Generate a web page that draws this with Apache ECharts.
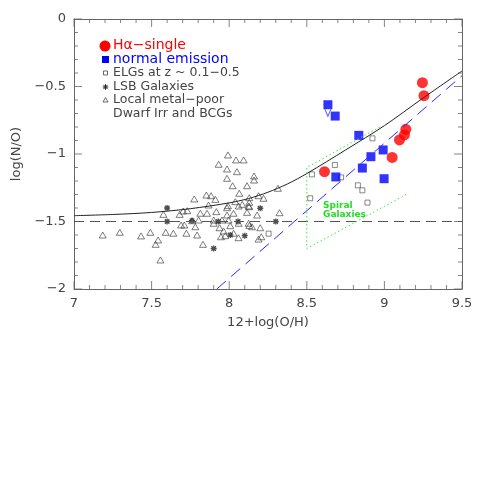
<!DOCTYPE html>
<html>
<head>
<meta charset="utf-8">
<script src="https://cdn.jsdelivr.net/npm/echarts@6/dist/echarts.min.js"></script>
<style>
  html, body { margin: 0; padding: 0; background: #fff; }
  #main { width: 480px; height: 480px; }
</style>
</head>
<body>
<div id="main"></div>
<script>
  // H-alpha single measurements
  var haSingle = [[9.245, -0.472], [9.255, -0.568], [9.138, -0.817], [9.129, -0.859],
    [9.097, -0.896], [9.05, -1.025], [8.614, -1.131]];
  // normal emission
  var normalEmission = [[8.636, -0.635], [8.683, -0.719], [8.835, -0.862], [8.992, -0.970],
    [8.913, -1.02], [8.858, -1.104], [8.687, -1.170], [8.998, -1.183]];
  var upperLimit = [[8.636, -0.695]];
  // ELGs at z ~ 0.1-0.5
  var elgs = [[8.533, -1.151], [8.681, -1.081], [8.923, -0.884], [8.721, -1.173], [8.829, -1.232],
    [8.858, -1.269], [8.891, -1.36], [8.522, -1.328], [8.254, -1.59]];
  // LSB galaxies
  var lsb = [[7.60, -1.40], [7.60, -1.50], [7.76, -1.494], [7.90, -1.70], [8.007, -1.60],
    [8.10, -1.605], [8.057, -1.50], [8.20, -1.402], [8.30, -1.50], [7.93, -1.50]];
  // local metal-poor dwarf irr and BCGs
  var dwarfs = [
    [7.185, -1.60], [7.295, -1.58], [7.432, -1.607], [7.492, -1.58], [7.591, -1.58], [7.640, -1.587],
    [7.576, -1.447], [7.681, -1.447], [7.69, -1.526], [7.542, -1.637], [7.526, -1.669], [7.557, -1.785],
    [7.992, -1.007], [8.044, -1.044], [8.093, -1.044], [7.932, -1.076], [7.986, -1.111], [8.050, -1.131],
    [7.986, -1.18], [8.16, -1.163], [8.16, -1.193], [8.022, -1.235], [8.115, -1.235], [8.314, -1.254],
    [8.065, -1.291], [7.853, -1.304], [7.883, -1.309], [7.775, -1.333], [7.911, -1.336], [8.189, -1.309],
    [8.221, -1.328], [8.129, -1.324], [8.039, -1.353], [8.084, -1.373], [8.129, -1.358], [7.867, -1.378],
    [7.992, -1.383], [8.129, -1.39],
    [7.703, -1.422], [7.814, -1.439], [7.857, -1.439], [7.917, -1.427], [7.986, -1.398], [8.028, -1.439],
    [8.061, -1.385], [8.125, -1.385], [8.115, -1.432], [7.986, -1.452], [7.761, -1.494], [7.803, -1.489],
    [7.90, -1.489], [7.954, -1.489], [7.996, -1.489], [7.711, -1.526], [7.782, -1.539], [7.90, -1.513],
    [7.938, -1.546], [8.007, -1.531], [8.061, -1.513], [8.125, -1.513], [8.147, -1.539], [8.20, -1.546],
    [7.724, -1.587], [7.793, -1.60], [7.964, -1.57], [7.975, -1.605], [8.028, -1.587], [7.947, -1.613],
    [8.189, -1.63], [8.207, -1.613], [7.831, -1.669], [7.73, -1.42], [8.324, -1.435], [8.18, -1.452],
    [8.13, -1.53], [8.06, -1.62]
  ];
  // model curve
  var modelCurve = [[7.0, -1.457], [7.25, -1.448], [7.5, -1.433], [7.75, -1.405], [8.0, -1.362],
    [8.125, -1.33], [8.25, -1.283], [8.375, -1.222], [8.5, -1.145], [8.75, -0.97], [9.0, -0.79],
    [9.25, -0.585], [9.5, -0.385]];
  var blueFit = [[7.92, -2.0], [9.5, -0.42]];
  var solarLine = [[7.0, -1.5], [9.5, -1.5]];
  var spiralBox = [[8.97, -0.80], [8.5, -1.10], [8.5, -1.70], [9.14, -1.30]];

  // tick positions (major every 0.5, minor every 0.1)
  var xMajor = [7, 7.5, 8, 8.5, 9, 9.5];
  var xMinor = [7.1, 7.2, 7.3, 7.4, 7.6, 7.7, 7.8, 7.9, 8.1, 8.2, 8.3, 8.4, 8.6, 8.7, 8.8, 8.9,
    9.1, 9.2, 9.3, 9.4];
  var yMajor = [-2, -1.5, -1, -0.5, 0];
  var yMinor = [-1.9, -1.8, -1.7, -1.6, -1.4, -1.3, -1.2, -1.1, -0.9, -0.8, -0.7, -0.6,
    -0.4, -0.3, -0.2, -0.1];

  var xMin = 7, xMax = 9.5, yMin = -2, yMax = 0;
  var axisColor = '#666';
  var font = 'DejaVu Sans';

  function minus(v) { return String(v).replace('-', '\u2212'); }

  var myChart = echarts.init(document.getElementById('main'));

  function axisBase(extra) {
    var a = {
      type: 'value',
      axisLine: { show: true, onZero: false, lineStyle: { color: axisColor, width: 1 } },
      axisTick: { show: false },
      minorTick: { show: false },
      splitLine: { show: false },
      minorSplitLine: { show: false }
    };
    for (var k in extra) a[k] = extra[k];
    return a;
  }

  // inside tick marks drawn as thin rect symbols sitting on the frame
  function tickMarks(values, side, len) {
    var isX = side === 'bottom' || side === 'top';
    var data = values.map(function (v) {
      if (side === 'bottom') return [v, yMin];
      if (side === 'top') return [v, yMax];
      if (side === 'left') return [xMin, v];
      return [xMax, v];
    });
    var off = { bottom: [0, -len / 2], top: [0, len / 2], left: [len / 2, 0], right: [-len / 2, 0] }[side];
    return {
      type: 'scatter', data: data, silent: true, clip: false, z: 1,
      symbol: 'rect', symbolSize: isX ? [1, len] : [len, 1], symbolOffset: off,
      itemStyle: { color: axisColor }
    };
  }

  function starLines(cx, cy, r) {
    var d = r * 0.75;
    var segs = [[0, -r, 0, r], [-r, 0, r, 0], [-d, -d, d, d], [-d, d, d, -d]];
    return segs.map(function (s) {
      return { type: 'line', shape: { x1: cx + s[0], y1: cy + s[1], x2: cx + s[2], y2: cy + s[3] },
        style: { stroke: '#222', lineWidth: 1 } };
    });
  }

  var legendGraphics = [
    { type: 'circle', shape: { cx: 105, cy: 46, r: 5.5 }, style: { fill: '#ff0000' } },
    { type: 'text', x: 113, y: 38, style: { text: 'H\u03b1\u2212single', fill: '#ff0000', fontSize: 14, fontFamily: font } },
    { type: 'rect', shape: { x: 102, y: 56, width: 7, height: 7 }, style: { fill: '#0000ff' } },
    { type: 'text', x: 113, y: 52, style: { text: 'normal emission', fill: '#0000ff', fontSize: 14, fontFamily: font } },
    { type: 'rect', shape: { x: 103.5, y: 71, width: 4, height: 4 }, style: { fill: 'none', stroke: '#444', lineWidth: 0.8 } },
    { type: 'text', x: 113, y: 66, style: { text: 'ELGs at z ~ 0.1\u22120.5', fill: '#444', fontSize: 12.5, fontFamily: font } },
    { type: 'text', x: 113, y: 80, style: { text: 'LSB Galaxies', fill: '#444', fontSize: 12.5, fontFamily: font } },
    { type: 'polygon', shape: { points: [[105.5, 97.5], [103, 102], [108, 102]] }, style: { fill: 'none', stroke: '#444', lineWidth: 0.8 } },
    { type: 'text', x: 113, y: 93, style: { text: 'Local metal\u2212poor', fill: '#444', fontSize: 12.5, fontFamily: font } },
    { type: 'text', x: 113, y: 107, style: { text: 'Dwarf Irr and BCGs', fill: '#444', fontSize: 12.5, fontFamily: font } },
    { type: 'text', x: 323, y: 201, style: { text: 'Spiral\nGalaxies', fill: '#22dd22', fontSize: 9, fontWeight: 'bold', lineHeight: 9, fontFamily: font } }
  ].concat(starLines(105.5, 87, 2.8));

  var option = {
    animation: false,
    backgroundColor: '#fff',
    grid: { left: 74, right: 18, top: 19, bottom: 191 },
    xAxis: [
      axisBase({
        min: xMin, max: xMax, interval: 0.5, position: 'bottom',
        axisLabel: { color: '#444', fontSize: 13, fontFamily: font, margin: 8, formatter: minus },
        name: '12+log(O/H)', nameLocation: 'middle', nameGap: 27,
        nameTextStyle: { color: '#444', fontSize: 13, fontFamily: font }
      }),
      axisBase({ min: xMin, max: xMax, interval: 0.5, position: 'top', axisLabel: { show: false } })
    ],
    yAxis: [
      axisBase({
        min: yMin, max: yMax, interval: 0.5, position: 'left',
        axisLabel: { color: '#444', fontSize: 13, fontFamily: font, margin: 8, formatter: minus },
        name: 'log(N/O)', nameLocation: 'middle', nameGap: 47,
        nameTextStyle: { color: '#444', fontSize: 13, fontFamily: font }
      }),
      axisBase({ min: yMin, max: yMax, interval: 0.5, position: 'right', axisLabel: { show: false } })
    ],
    series: [
      tickMarks(xMajor, 'bottom', 8), tickMarks(xMinor, 'bottom', 4),
      tickMarks(xMajor, 'top', 8), tickMarks(xMinor, 'top', 4),
      tickMarks(yMajor, 'left', 8), tickMarks(yMinor, 'left', 4),
      tickMarks(yMajor, 'right', 8), tickMarks(yMinor, 'right', 4),
      {
        name: 'solar', type: 'line', data: solarLine, showSymbol: false, silent: true,
        lineStyle: { color: '#555', width: 1, type: [10, 6] }
      },
      {
        name: 'model', type: 'line', data: modelCurve, smooth: 0.3, showSymbol: false, silent: true,
        lineStyle: { color: '#222', width: 1 }
      },
      {
        name: 'fit', type: 'line', data: blueFit, showSymbol: false, silent: true,
        lineStyle: { color: '#2828ff', width: 1, type: [12, 7] }
      },
      {
        name: 'spiral', type: 'line', data: spiralBox, showSymbol: false, silent: true,
        lineStyle: { color: '#33ee33', width: 1, type: [1.5, 2.5] }
      },
      {
        name: 'Local metal-poor Dwarf Irr and BCGs', type: 'scatter', data: dwarfs,
        symbol: 'triangle', symbolSize: [7, 6],
        itemStyle: { color: 'rgba(255,255,255,0)', borderColor: '#333', borderWidth: 0.8 }
      },
      {
        name: 'LSB Galaxies', type: 'scatter', data: lsb,
        symbol: 'path://M0,-4L0,4M-4,0L4,0M-3,-3L3,3M-3,3L3,-3', symbolSize: 6,
        itemStyle: { color: 'rgba(0,0,0,0)', borderColor: '#222', borderWidth: 1.3 }
      },
      {
        name: 'ELGs', type: 'scatter', data: elgs,
        symbol: 'rect', symbolSize: 5,
        itemStyle: { color: 'rgba(255,255,255,0)', borderColor: '#444', borderWidth: 0.8 }
      },
      {
        name: 'upper limit', type: 'scatter', data: upperLimit,
        symbol: 'path://M0,0L4,7L8,0', symbolSize: [6, 7],
        itemStyle: { color: 'rgba(0,0,0,0)', borderColor: '#2828ff', borderWidth: 1 }
      },
      {
        name: 'normal emission', type: 'scatter', data: normalEmission,
        symbol: 'rect', symbolSize: 9,
        itemStyle: { color: '#0000ff' }
      },
      {
        name: 'H\u03b1\u2212single', type: 'scatter', data: haSingle,
        symbol: 'circle', symbolSize: 11,
        itemStyle: { color: '#ff0000' }
      }
    ],
    graphic: legendGraphics
  };

  myChart.setOption(option);
</script>
</body>
</html>
